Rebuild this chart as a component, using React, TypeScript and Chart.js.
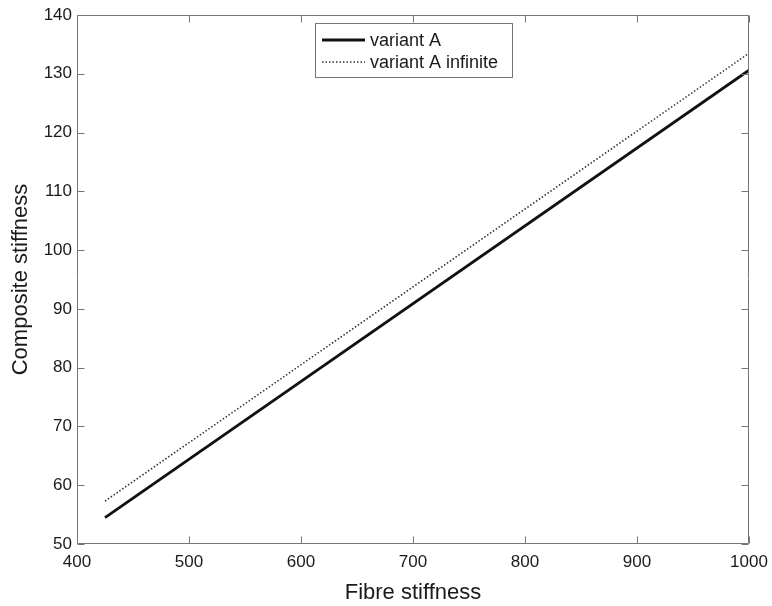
import React, { useEffect, useRef } from "react";
import { Chart, registerables } from "chart.js";

Chart.register(...registerables);

const fibreStiffness = [425, 1000];
const variantA = [54.5, 130.6];
const variantAInfinite = [57.3, 133.5];
const xTicks = [400, 500, 600, 700, 800, 900, 1000];
const yTicks = [50, 60, 70, 80, 90, 100, 110, 120, 130, 140];
const seriesLabels = ["variant A", "variant A infinite"];

const FONT = "'Liberation Sans', Arial, Helvetica, sans-serif";
const FRAME = "#767676";
const TEXT = "#1a1a1a";

const framePlugin = {
  id: "matlabFrame",
  afterDraw(chart: any) {
    const { ctx, chartArea: a, scales } = chart;
    const L = Math.round(a.left) + 0.5;
    const R = Math.round(a.right) - 0.5;
    const T = Math.round(a.top) + 0.5;
    const B = Math.round(a.bottom) - 0.5;
    ctx.save();
    ctx.strokeStyle = FRAME;
    ctx.lineWidth = 1;
    ctx.beginPath();
    ctx.rect(L, T, R - L, B - T);
    ctx.stroke();
    const tl = 7;
    ctx.beginPath();
    xTicks.forEach((v) => {
      const x = Math.round(scales.x.getPixelForValue(v)) + 0.5;
      ctx.moveTo(x, B);
      ctx.lineTo(x, B - tl);
      ctx.moveTo(x, T);
      ctx.lineTo(x, T + tl);
    });
    yTicks.forEach((v) => {
      const y = Math.round(scales.y.getPixelForValue(v)) + 0.5;
      ctx.moveTo(L, y);
      ctx.lineTo(L + tl, y);
      ctx.moveTo(R, y);
      ctx.lineTo(R - tl, y);
    });
    ctx.stroke();

    // legend
    const bx = 315.5, by = 23.5, bw = 197, bh = 54;
    ctx.fillStyle = "#ffffff";
    ctx.fillRect(bx, by, bw, bh);
    ctx.strokeStyle = FRAME;
    ctx.strokeRect(bx, by, bw, bh);
    const rows = [40, 62];
    chart.data.datasets.forEach((ds: any, i: number) => {
      const y = rows[i];
      ctx.strokeStyle = ds.borderColor;
      ctx.lineWidth = ds.borderWidth;
      ctx.setLineDash(ds.borderDash || []);
      ctx.beginPath();
      ctx.moveTo(322, y);
      ctx.lineTo(365, y);
      ctx.stroke();
      ctx.setLineDash([]);
      ctx.fillStyle = TEXT;
      ctx.font = `18px ${FONT}`;
      ctx.textBaseline = "middle";
      ctx.textAlign = "left";
      ctx.fillText(ds.label, 370, y + 1);
    });
    ctx.restore();
  },
};

export default function App() {
  const ref = useRef<HTMLCanvasElement>(null);
  useEffect(() => {
    document.body.style.margin = "0";
    const canvas = ref.current!;
    const chart = new Chart(canvas, {
      type: "line",
      data: {
        datasets: [
          {
            label: seriesLabels[0],
            data: fibreStiffness.map((x, i) => ({ x, y: variantA[i] })),
            borderColor: "#111111",
            borderWidth: 2.8,
            pointRadius: 0,
            fill: false,
          },
          {
            label: seriesLabels[1],
            data: fibreStiffness.map((x, i) => ({ x, y: variantAInfinite[i] })),
            borderColor: "#333333",
            borderWidth: 1.6,
            borderDash: [1.5, 2],
            pointRadius: 0,
            fill: false,
          },
        ],
      },
      plugins: [framePlugin],
      options: {
        animation: false,
        responsive: false,
        maintainAspectRatio: false,
        layout: { padding: { top: 15, right: 23, left: 0, bottom: 0 } },
        plugins: { legend: { display: false }, tooltip: { enabled: false } },
        scales: {
          x: {
            type: "linear",
            min: 400,
            max: 1000,
            afterBuildTicks: (s: any) => {
              s.ticks = xTicks.map((v) => ({ value: v }));
            },
            afterFit: (s: any) => {
              s.height = 62;
              s.paddingLeft = 0;
              s.paddingRight = 0;
            },
            ticks: {
              font: { family: FONT, size: 17 },
              color: TEXT,
              padding: 8,
              maxRotation: 0,
              autoSkip: false,
              callback: (v: any) => String(v),
            },
            grid: { display: false, drawTicks: false },
            border: { display: false },
            title: {
              display: true,
              text: "Fibre stiffness",
              font: { family: FONT, size: 22 },
              color: TEXT,
              padding: { top: 0, bottom: 0 },
            },
          },
          y: {
            type: "linear",
            min: 50,
            max: 140,
            afterBuildTicks: (s: any) => {
              s.ticks = yTicks.map((v) => ({ value: v }));
            },
            afterFit: (s: any) => {
              s.width = 77;
              s.paddingTop = 0;
              s.paddingBottom = 0;
            },
            ticks: {
              font: { family: FONT, size: 17 },
              color: TEXT,
              padding: 5,
              autoSkip: false,
              callback: (v: any) => String(v),
            },
            grid: { display: false, drawTicks: false },
            border: { display: false },
            title: {
              display: true,
              text: "Composite stiffness",
              font: { family: FONT, size: 22 },
              color: TEXT,
              padding: { top: 8, bottom: 0 },
            },
          },
        },
      },
    } as any);
    return () => chart.destroy();
  }, []);
  return (
    <div style={{ width: 772, height: 606, background: "#fff" }}>
      <canvas ref={ref} width={772} height={606} style={{ display: "block" }} />
    </div>
  );
}
